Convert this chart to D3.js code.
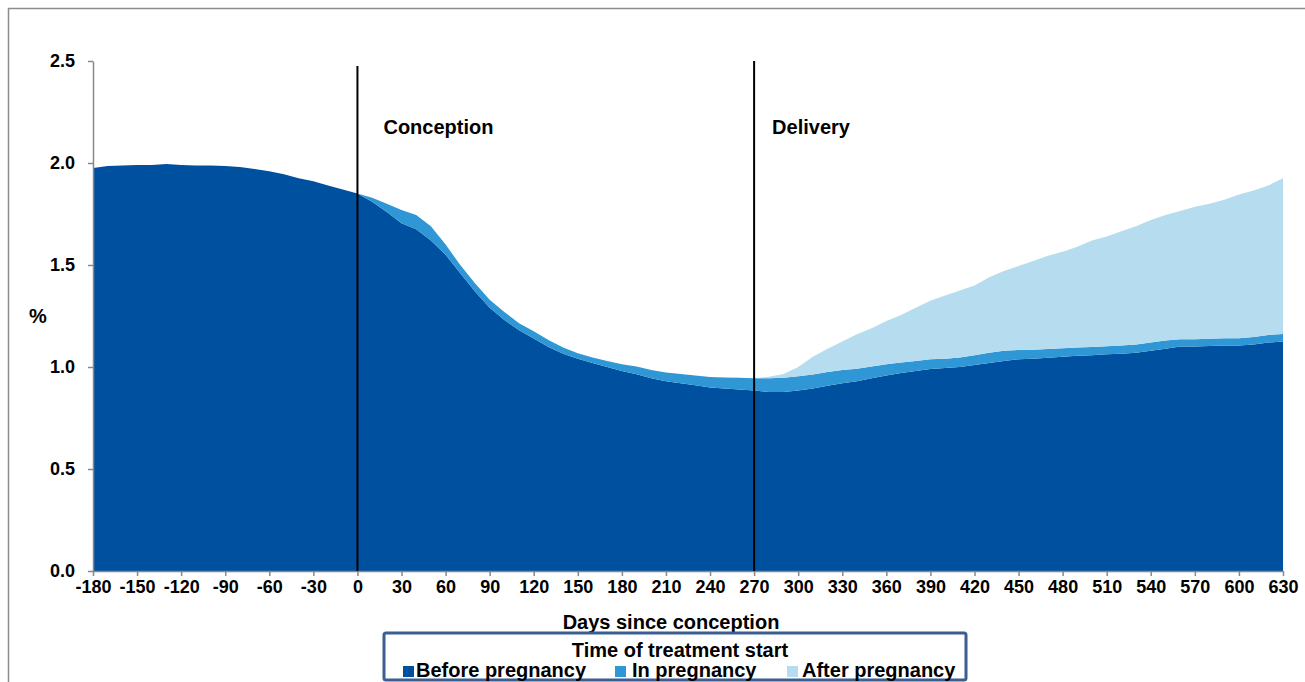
<!DOCTYPE html>
<html><head><meta charset="utf-8">
<script src="https://cdn.jsdelivr.net/npm/d3@7"></script>
<style>
html,body{margin:0;padding:0;background:#fff;}
svg{display:block;font-family:"Liberation Sans",Arial,sans-serif;}
</style></head>
<body>
<svg id="chart" width="1305" height="682"></svg>
<script>
// Days since conception (step 10)
const days = d3.range(-180, 631, 10);

// Series values (% of women)
const beforePregnancy = [
  1.975,1.985,1.988,1.99,1.99,1.995,1.99,1.988,1.988,1.985,1.98,1.97,1.96,1.945,1.925,1.91,1.89,1.87,
  1.85,1.81,1.76,1.705,1.675,1.62,1.55,1.46,1.37,1.29,1.23,1.18,1.14,1.098,1.065,1.04,1.02,1.0,0.98,0.965,0.945,0.93,0.92,0.91,0.90,0.895,0.89,0.885,
  0.878,0.877,0.885,0.895,0.908,0.92,0.93,0.945,0.958,0.97,0.98,0.99,0.995,1.0,1.01,1.02,1.03,1.038,1.04,1.045,1.05,1.055,1.058,1.062,1.065,1.07,1.08,1.09,1.10,1.10,1.103,1.105,1.105,1.11,1.12,1.125
];
const inPregnancy = [
  0,0,0,0,0,0,0,0,0,0,0,0,0,0,0,0,0,0,
  0,0.02,0.04,0.065,0.07,0.07,0.05,0.04,0.04,0.04,0.04,0.035,0.035,0.034,0.03,0.027,0.027,0.03,0.033,0.037,0.04,0.043,0.046,0.048,0.051,0.054,0.057,0.06,
  0.067,0.07,0.07,0.068,0.067,0.065,0.062,0.058,0.055,0.052,0.05,0.048,0.046,0.046,0.047,0.05,0.05,0.046,0.044,0.043,0.042,0.041,0.04,0.04,0.04,0.04,0.04,0.04,0.036,0.036,0.036,0.036,0.036,0.037,0.037,0.037
];
const afterPregnancy = [
  0,0,0,0,0,0,0,0,0,0,0,0,0,0,0,0,0,0,
  0,0,0,0,0,0,0,0,0,0,0,0,0,0,0,0,0,0,0,0,0,0,0,0,0,0,0,0,
  0.007,0.019,0.045,0.087,0.115,0.14,0.168,0.187,0.212,0.233,0.26,0.287,0.309,0.329,0.343,0.37,0.39,0.411,0.436,0.457,0.473,0.494,0.522,0.538,0.56,0.58,0.60,0.615,0.629,0.649,0.661,0.679,0.704,0.718,0.733,0.763
];
const seriesNames = ["Before pregnancy","In pregnancy","After pregnancy"];
const seriesKeys = ["before","inPreg","after"];
const colors = ["#0050a0","#2f97d6","#b6dcf0"];
const xTicks = d3.range(-180, 631, 30);
const yTicks = [0,0.5,1.0,1.5,2.0,2.5];
const markers = [{day:0,label:"Conception"},{day:270,label:"Delivery"}];

const rows = days.map((d,i)=>({day:d, before:beforePregnancy[i], inPreg:inPregnancy[i], after:afterPregnancy[i]}));

const svg = d3.select("#chart");
const m = {left:93, right:1283, top:61, bottom:571};
const x = d3.scaleLinear().domain([-180,630]).range([m.left,m.right]);
const y = d3.scaleLinear().domain([0,2.5]).range([m.bottom,m.top]);

// outer frame
svg.append("rect").attr("x",8.5).attr("y",8.5).attr("width",1310).attr("height",690)
  .attr("fill","none").attr("stroke","#8c8c8c").attr("stroke-width",1.5);

const stack = d3.stack().keys(seriesKeys);
const layers = stack(rows);
const area = d3.area().x(d=>x(d.data.day)).y0(d=>y(d[0])).y1(d=>y(d[1])).curve(d3.curveLinear);
svg.append("g").selectAll("path").data(layers).join("path")
  .attr("d",area).attr("fill",(d,i)=>colors[i]);

// axes
const gx = svg.append("g").attr("transform",`translate(0,${m.bottom})`)
  .call(d3.axisBottom(x).tickValues(xTicks).tickSize(5).tickSizeOuter(0).tickPadding(4).tickFormat(d=>String(d)));
const gy = svg.append("g").attr("transform",`translate(${m.left},0)`)
  .call(d3.axisLeft(y).tickValues(yTicks).tickSize(5).tickSizeOuter(0).tickPadding(13).tickFormat(d3.format(".1f")));
[gx,gy].forEach(g=>{
  g.selectAll(".domain,line").attr("stroke","#888").attr("stroke-width",1.5);
  g.selectAll("text").attr("fill","#000").attr("font-size",18).attr("font-weight","bold")
   .attr("font-family","'Liberation Sans',Arial,sans-serif");
});

// vertical markers
markers.forEach((mk,i)=>{
  svg.append("line").attr("x1",x(mk.day)).attr("x2",x(mk.day))
    .attr("y1", i===0 ? 66 : m.top).attr("y2",m.bottom)
    .attr("stroke","#000").attr("stroke-width",2);
  svg.append("text").attr("x",x(mk.day)+(i===0?26:18)).attr("y",134)
    .attr("font-size",20).attr("font-weight","bold").text(mk.label);
});

// axis titles
svg.append("text").attr("x",38).attr("y",323).attr("text-anchor","middle")
  .attr("font-size",20).attr("font-weight","bold").text("%");
svg.append("text").attr("x",671).attr("y",629).attr("text-anchor","middle")
  .attr("font-size",20).attr("font-weight","bold").text("Days since conception");

// legend
const lg = svg.append("g");
lg.append("rect").attr("x",384).attr("y",633).attr("width",582).attr("height",47)
  .attr("fill","#fff").attr("stroke","#3a5f90").attr("stroke-width",3).attr("rx",2);
lg.append("text").attr("x",680).attr("y",657).attr("text-anchor","middle")
  .attr("font-size",20).attr("font-weight","bold").text("Time of treatment start");
const markerX = [403,615,787];
const textX = [416,632,802];
seriesNames.forEach((n,i)=>{
  lg.append("rect").attr("x",markerX[i]).attr("y",666).attr("width",11).attr("height",11).attr("fill",colors[i]);
  lg.append("text").attr("x",textX[i]).attr("y",677).attr("font-size",20).attr("font-weight","bold").text(n);
});
</script>
</body></html>
